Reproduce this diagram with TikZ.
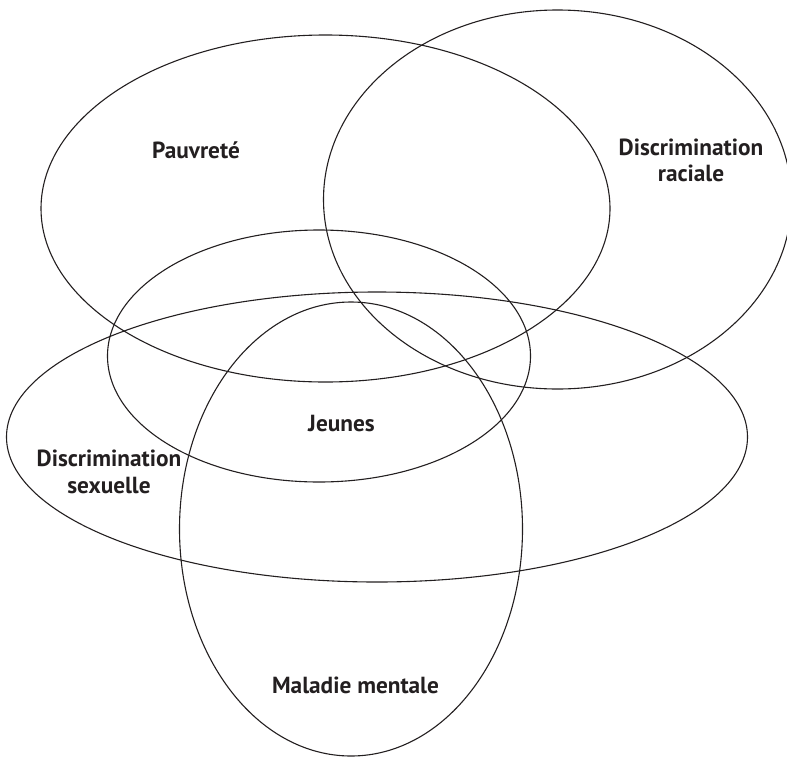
\documentclass[tikz,border=0pt]{standalone}
\usepackage{fontspec}
\setmainfont{PT Sans}
\usetikzlibrary{positioning}

\definecolor{ink}{HTML}{231F20}

\tikzset{
  circ/.style={line width=1.1pt, draw=ink},
  lbl/.style={font=\fontsize{23.3}{26.7}\selectfont\bfseries, text=ink, inner sep=0pt, align=center, anchor=base},
}

\begin{document}
\begin{tikzpicture}[x=1pt,y=-1pt]

\useasboundingbox (0,0) rectangle (787,758);

\draw[circ] (325.5,208.5) ellipse [x radius=284.5, y radius=173.5];
\draw[circ] (557.5,199.5) ellipse [x radius=234, y radius=189.5];
\draw[circ] (319,356) ellipse [x radius=211.5, y radius=126];
\draw[circ] (377,437) ellipse [x radius=370.5, y radius=145];
\draw[circ] (351,529) ellipse [x radius=171.5, y radius=227];

\node[lbl] (pauvrete) at (196,158.3) {Pauvreté};
\node[lbl] (raciale) at (691,181.7) {Discrimination\\raciale};
\node[lbl] (jeunes) at (341.5,431.7) {Jeunes};
\node[lbl] (sexuelle) at (109,493) {Discrimination\\sexuelle};
\node[lbl] (maladie) at (355.5,693) {Maladie mentale};

\end{tikzpicture}
\end{document}
